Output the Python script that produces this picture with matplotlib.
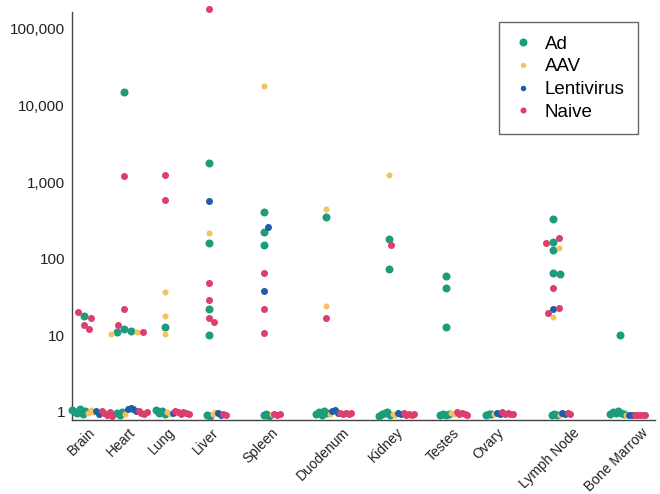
import matplotlib
matplotlib.use("Agg")
import matplotlib.pyplot as plt
import matplotlib.transforms as mtransforms
import numpy as np
from matplotlib.lines import Line2D
from matplotlib.ticker import FixedLocator, NullLocator

plt.rcParams['font.family'] = ['Liberation Sans', 'DejaVu Sans']

# ---- data -----------------------------------------------------------------
organs = ["Brain", "Heart", "Lung", "Liver", "Spleen", "Duodenum", "Kidney",
          "Testes", "Ovary", "Lymph Node", "Bone Marrow"]

# uneven category spacing of the tissue axis
organ_pos = [0.23, 0.98, 1.75, 2.58, 3.62, 4.79, 5.98, 7.06, 7.92, 9.08, 10.34]

groups = ["Ad", "AAV", "Lentivirus", "Naive"]

ad_values = {
    "Brain":       [18, 1.05, 1.0, 0.96, 1.08, 0.94, 1.02],
    "Heart":       [15000, 12, 11.5, 11, 0.97, 0.92, 1.01],
    "Lung":        [13, 1.06, 0.97, 1.02, 0.93],
    "Liver":       [1750, 160, 22, 10, 0.92, 0.89],
    "Spleen":      [410, 220, 150, 0.92, 0.95, 0.89],
    "Duodenum":    [350, 0.95, 0.99, 0.92, 1.03, 0.97],
    "Kidney":      [180, 74, 0.89, 0.93, 0.97, 1.01, 0.92],
    "Testes":      [60, 42, 13, 0.92, 0.93, 0.92, 0.94],
    "Ovary":       [0.92, 0.94, 0.95],
    "Lymph Node":  [330, 165, 130, 65, 63, 0.92, 0.93, 0.92],
    "Bone Marrow": [10, 0.95, 1.0, 0.97, 1.03, 0.97, 0.95],
}
aav_values = {
    "Brain":       [0.96, 1.07, 1.0],
    "Heart":       [11, 10.5, 0.95],
    "Lung":        [37, 18, 10.5, 1.0, 0.95],
    "Liver":       [215, 0.95, 0.99],
    "Spleen":      [18000, 0.93],
    "Duodenum":    [450, 24, 0.94],
    "Kidney":      [1250, 0.95, 0.91],
    "Testes":      [0.97, 0.95],
    "Ovary":       [0.95],
    "Lymph Node":  [140, 17.5, 0.91],
    "Bone Marrow": [0.92],
}
lenti_values = {
    "Brain":       [1.02, 0.95],
    "Heart":       [1.08, 1.12, 1.08, 1.03],
    "Lung":        [0.97],
    "Liver":       [560, 0.97, 0.92],
    "Spleen":      [260, 38],
    "Duodenum":    [1.03, 1.06, 0.97],
    "Kidney":      [0.97, 0.93],
    "Testes":      [],
    "Ovary":       [0.97, 0.94],
    "Lymph Node":  [22, 0.97, 0.93],
    "Bone Marrow": [0.92, 0.9],
}
naive_values = {
    "Brain":       [17, 20, 13.5, 12, 1.04, 0.97, 0.92, 1.0, 0.89],
    "Heart":       [1200, 22, 13.5, 11, 1.02, 0.97, 0.94, 0.99],
    "Lung":        [1250, 580, 1.02, 0.99, 0.95, 1.0, 0.97, 0.93],
    "Liver":       [180000, 48, 29, 17, 15, 0.94, 0.9],
    "Spleen":      [65, 22, 10.7, 0.94, 0.92, 0.95],
    "Duodenum":    [17, 0.97, 0.95, 0.97, 0.94, 0.97],
    "Kidney":      [150, 0.97, 0.92, 0.95, 0.9, 0.93],
    "Testes":      [0.99, 0.94, 0.97, 0.93, 0.92],
    "Ovary":       [0.99, 0.95, 0.97, 0.93, 0.94],
    "Lymph Node":  [185, 160, 42, 23, 19.5, 0.97, 0.93],
    "Bone Marrow": [0.9, 0.9, 0.9, 0.9, 0.9],
}

y_ticks = [1, 10, 100, 1000, 10000, 100000]
y_tick_labels = ["1", "10", "100", "1,000", "10,000", "100,000"]

# ---- style ----------------------------------------------------------------
series = {"Ad": ad_values, "AAV": aav_values,
          "Lentivirus": lenti_values, "Naive": naive_values}
colors = {"Ad": "#1c9c7c", "AAV": "#f3c35e",
          "Lentivirus": "#1f5ea8", "Naive": "#dc3f6e"}
dot_px = {"Ad": 8.0, "AAV": 6.0, "Lentivirus": 7.0, "Naive": 7.0}
legend_px = {"Ad": 8.0, "AAV": 5.5, "Lentivirus": 5.5, "Naive": 6.0}

DPI = 100
fig = plt.figure(figsize=(6.6, 4.94), dpi=DPI)
ax = fig.add_axes([0.109, 0.150, 0.883, 0.826])
ax.set_yscale("log")
ax.set_xlim(0, 11)
ax.set_ylim(0.786, 1.67e5)

fig.canvas.draw()
to_px = ax.transData
to_data = ax.transData.inverted()


def px_to_dx(dpx):
    x0 = to_data.transform((0, 0))[0]
    x1 = to_data.transform((dpx, 0))[0]
    return x1 - x0


LOW_CUT = 2.0
LOW_STEP = 2.7     # horizontal spacing of undetectable-level points (px)
LOW_SHIFT = 8.0    # low cluster sits a little right of the tick (px)

xs = {g: [] for g in groups}
ys = {g: [] for g in groups}

for organ, pos in zip(organs, organ_pos):
    cx_px = to_px.transform((pos, 1))[0]

    # points near detection limit: packed side by side, groups in order
    low = [(g, v) for g in groups for v in series[g][organ] if v < LOW_CUT]
    n = len(low)
    start = cx_px + LOW_SHIFT - (n - 1) * LOW_STEP / 2
    for i, (g, v) in enumerate(low):
        xpx = start + i * LOW_STEP
        xs[g].append(pos + px_to_dx(xpx - cx_px))
        ys[g].append(v)

    # elevated values: simple beeswarm around the category centre
    high = [(g, v) for g in groups for v in series[g][organ] if v >= LOW_CUT]
    placed = []
    for g, v in high:
        ypx = to_px.transform((pos, v))[1]
        d = 0.85 * dot_px[g]
        for k in range(0, 60):
            off = ((k + 1) // 2) * (1 if k % 2 else -1) * 1.0
            ok = True
            for (px_, py_, dd) in placed:
                if np.hypot(cx_px + off - px_, ypx - py_) < 0.5 * (d + dd):
                    ok = False
                    break
            if ok:
                break
        placed.append((cx_px + off, ypx, d))
        xs[g].append(pos + px_to_dx(off))
        ys[g].append(v)

for g in groups:
    s = (dot_px[g] * 72 / DPI) ** 2
    ax.scatter(xs[g], ys[g], s=s, color=colors[g], linewidths=0,
               zorder=3, clip_on=False)

# ---- axes -----------------------------------------------------------------
for side in ("top", "right"):
    ax.spines[side].set_visible(False)
for side in ("left", "bottom"):
    ax.spines[side].set_color("#444444")
    ax.spines[side].set_linewidth(1.0)

ax.yaxis.set_major_locator(FixedLocator(y_ticks))
ax.yaxis.set_minor_locator(NullLocator())
ax.set_yticklabels(y_tick_labels)
ax.set_xticks(organ_pos)
ax.set_xticklabels(organs, rotation=45)
ax.tick_params(axis="y", length=0, pad=5, labelsize=11, labelcolor="#222222")
ax.tick_params(axis="x", length=0, pad=4, labelsize=10, labelcolor="#222222")

# rotated organ names sit slightly left of their dot columns
shift = mtransforms.ScaledTranslation(-3 / DPI, 0, fig.dpi_scale_trans)
for lab in ax.get_xticklabels():
    lab.set_transform(lab.get_transform() + shift)

handles = [Line2D([], [], linestyle="none", marker="o",
                  markersize=legend_px[g] * 72 / DPI,
                  markerfacecolor=colors[g], markeredgewidth=0, label=g)
           for g in groups]
leg = ax.legend(handles=handles, loc="upper right",
                bbox_to_anchor=(638 / 660, 1 - 22 / 494),
                bbox_transform=fig.transFigure,
                fontsize=13.5, frameon=True, fancybox=False,
                labelspacing=0.3, handletextpad=0.6, handlelength=1.1,
                borderpad=0.72, borderaxespad=0)
leg.get_frame().set_edgecolor("#444444")
leg.get_frame().set_linewidth(1.0)

fig.savefig("out.png", dpi=DPI)
